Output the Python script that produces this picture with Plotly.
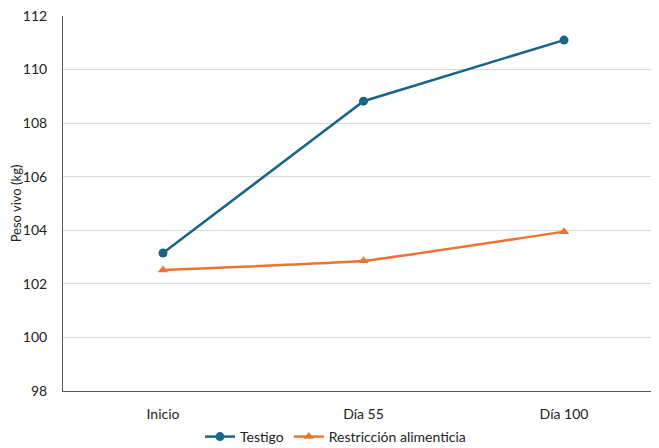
import plotly.graph_objects as go

categories = ["Inicio", "Día 55", "Día 100"]
testigo = [103.15, 108.82, 111.1]
restriccion = [102.52, 102.86, 103.95]
y_ticks = [98, 100, 102, 104, 106, 108, 110, 112]

BLUE = "#1a6486"
ORANGE = "#ea7434"
FONT = "Lato, 'Open Sans', sans-serif"

fig = go.Figure()
fig.add_trace(go.Scatter(
    x=[0, 1, 2], y=testigo, name="Testigo", mode="lines+markers",
    line=dict(color=BLUE, width=2.5),
    marker=dict(symbol="circle", size=9, color=BLUE),
))
fig.add_trace(go.Scatter(
    x=[0, 1, 2], y=restriccion, name="Restricción alimenticia", mode="lines+markers",
    line=dict(color=ORANGE, width=2.5, shape="spline", smoothing=0.35),
    marker=dict(symbol="triangle-up", size=9, color=ORANGE),
))

# page body has an 8px margin, so the figure is offset by 8px
fig.update_layout(
    width=651, height=440,
    margin=dict(l=55, r=2, t=8, b=57, autoexpand=False),
    paper_bgcolor="white", plot_bgcolor="white",
    font=dict(family=FONT, size=14, color="#222222"),
    showlegend=True,
    legend=dict(orientation="h", x=0.503, xanchor="center",
                xref="container", yref="container", y=0.025, yanchor="middle",
                font=dict(size=14), itemwidth=30, tracegroupgap=0),
)
fig.update_xaxes(
    range=[-0.4988, 2.4638], tickmode="array", tickvals=[0, 1, 2], ticktext=categories,
    showgrid=False, showline=True, linecolor="#595959", linewidth=1,
    ticks="", ticklabelstandoff=10, zeroline=False, automargin=False,
    ticklabeloverflow="allow",
)
fig.update_yaxes(
    range=[98, 112], tickmode="array", tickvals=y_ticks,
    showgrid=True, gridcolor="#d9d9d9", gridwidth=1,
    showline=True, linecolor="#595959", linewidth=1,
    ticks="", ticklabelstandoff=12, zeroline=False, automargin=False,
    ticklabeloverflow="allow",
    title=dict(text="Peso vivo (kg)", font=dict(size=13), standoff=8),
)
fig.write_html("out.html")
